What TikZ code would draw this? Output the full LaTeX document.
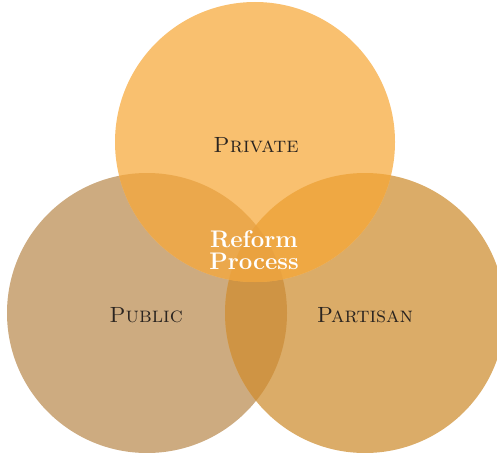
\documentclass[tikz,border=0pt]{standalone}
\usetikzlibrary{positioning}
\definecolor{privC}{HTML}{F9C06F}
\definecolor{pubC}{HTML}{CDAB80}
\definecolor{parC}{HTML}{DBAC68}
\definecolor{privpubC}{HTML}{EBA84C}
\definecolor{privparC}{HTML}{EFA843}
\definecolor{pubparC}{HTML}{CF9444}
\definecolor{allC}{HTML}{EAA23F}
\definecolor{inkC}{HTML}{2A2420}
\tikzset{
	every node/.style={align=center},
	sector/.style={font=\fontsize{22}{26}\selectfont\scshape, text=inkC},
	core/.style={font=\fontsize{24}{22}\selectfont\bfseries, text=white}
}

\begin{document}
\begin{tikzpicture}[x=1pt,y=-1pt]
	\useasboundingbox (0,0) rectangle (497,452);
	
	\coordinate (priv) at (255,142);
	\coordinate (pub) at (147,313);
	\coordinate (par) at (365,313);
	
	% plain circles
	\fill[pubC] (pub) circle (140);
	\fill[parC] (par) circle (140);
	\fill[privC] (priv) circle (140);
	
	% overlaps
	\begin{scope}
		\clip (par) circle (140);
		\fill[pubparC] (pub) circle (140);
		\fill[privparC] (priv) circle (140);
	\end{scope}
	\begin{scope}
		\clip (pub) circle (140);
		\fill[privpubC] (priv) circle (140);
		\clip (par) circle (140);
		\fill[allC] (priv) circle (140);
	\end{scope}
	
	\node[sector] (private) at (256,145) {Private};
	\node[sector] (public) at (146,315) {Public};
	\node[sector] (partisan) at (365,315) {Partisan};
	\node[core] (reform) at (254,250) {Reform\\Process};
	
\end{tikzpicture}
\end{document}
